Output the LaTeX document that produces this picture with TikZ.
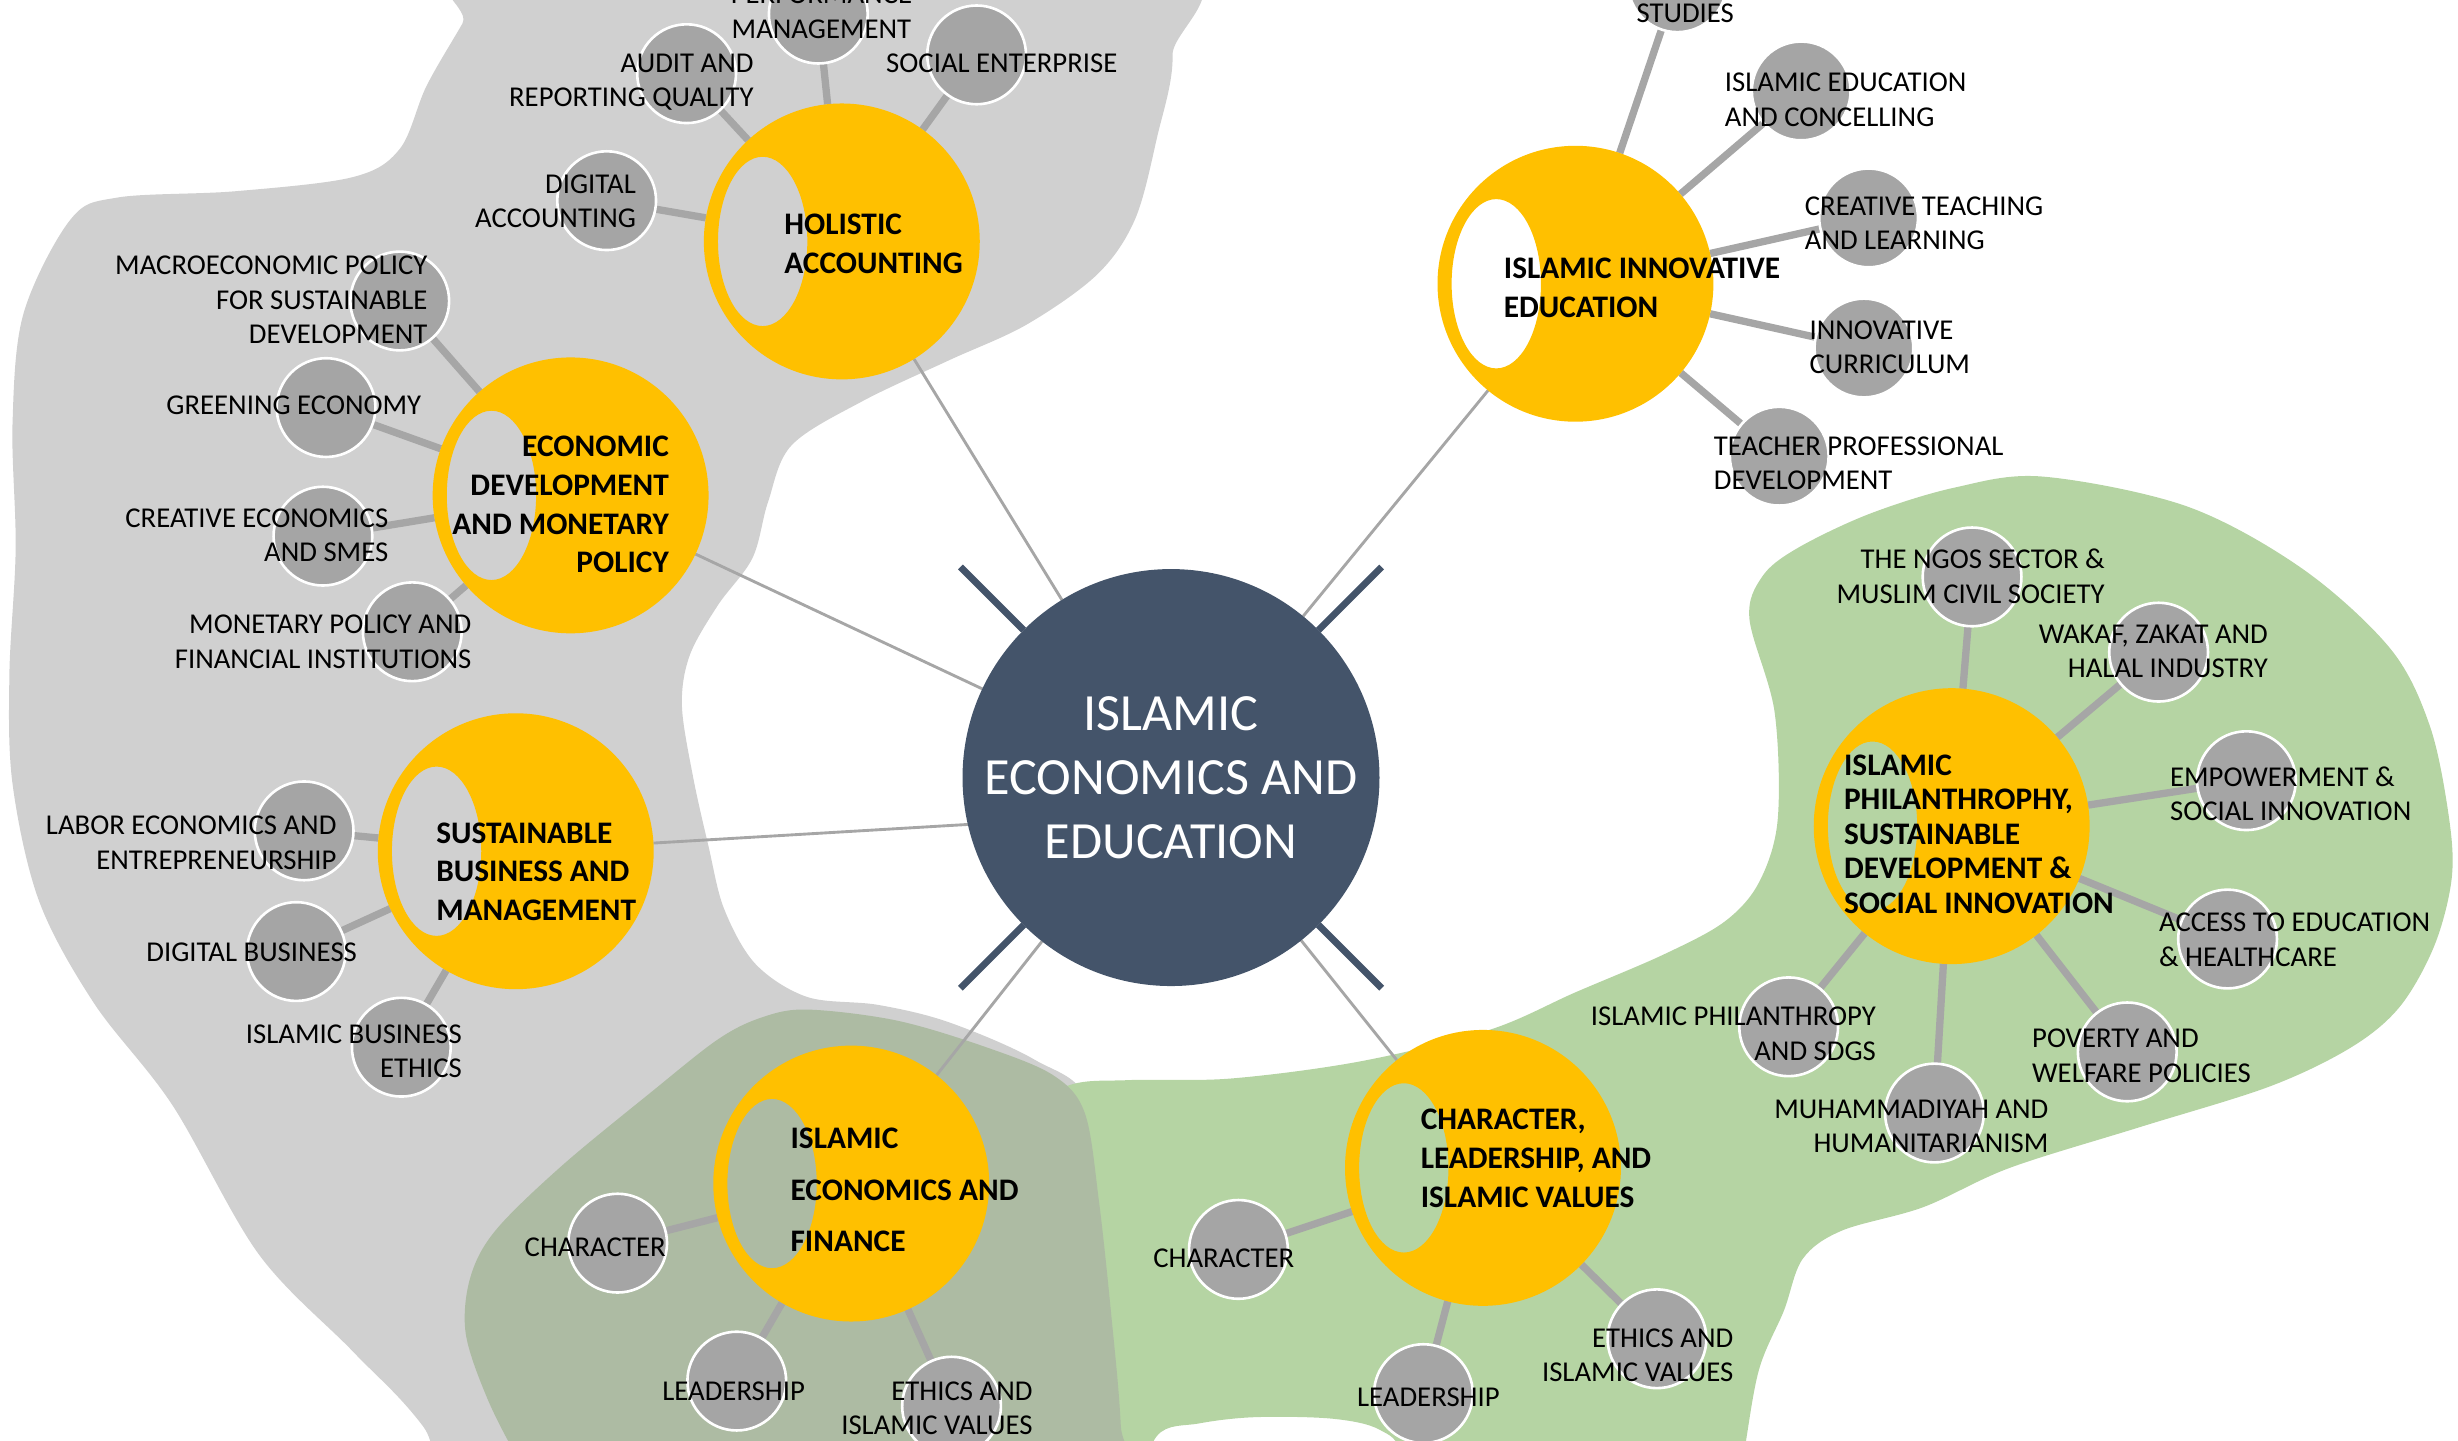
\documentclass[tikz,border=0pt]{standalone}
\usepackage{fontspec}
\setmainfont{Carlito}
\usetikzlibrary{calc}
\pgfdeclarelayer{blobs}
\pgfdeclarelayer{links}
\pgfsetlayers{blobs,links,main}
\definecolor{blobgray}{HTML}{D0D0D0}
\definecolor{blobgreen}{HTML}{B5D4A3}
\definecolor{blobolive}{HTML}{ADBBA3}
\definecolor{yel}{HTML}{FFC000}
\definecolor{navy}{HTML}{44546A}
\definecolor{subgray}{HTML}{A5A5A5}
\definecolor{linkgray}{HTML}{A6A6A6}
\tikzset{
  hubnode/.style={circle, fill=navy, minimum size=159.6pt, inner sep=0pt, outer sep=0pt, text=white, align=center, font=\fontsize{20}{24.6}\selectfont},
  mainc/.style={circle, minimum size=105.6pt, inner sep=0pt, outer sep=0pt},
  subc/.style={circle, fill=subgray, draw=white, line width=1pt, minimum size=37.8pt, inner sep=0pt, outer sep=0pt},
  hublink/.style={draw=linkgray, line width=1.1pt},
  sublink/.style={draw=linkgray, line width=2.8pt},
  tickmark/.style={draw=navy, line width=2.6pt},
  lab/.style={inner sep=0pt, yshift=-0.9pt, font=\fontsize{11}{13.2}\selectfont},
  mlab/.style={inner sep=0pt, yshift=-0.6pt, font=\bfseries\fontsize{12}{14.8}\selectfont},
  yring/.style={fill=yel, even odd rule}
}
\newcommand{\ringfill}[1]{\fill[yring] (#1.center) circle[radius=88] ($(#1.center)+(-50.5,0)$) ellipse[x radius=28.5, y radius=54];}
\begin{document}
\begin{tikzpicture}[x=0.6pt, y=-0.6pt]
\useasboundingbox (0,0) rectangle (1568,919);
\begin{pgfonlayer}{blobs}
\clip (0,0) rectangle (1568,919);
\fill[blobgray] plot[smooth cycle, tension=0.55] coordinates {
 (45,140) (75,126) (150,122) (225,113) (255,95) (272,55) (295,15) (318,-25) (735,-25) (748,35) (738,88) (724,140) (700,175) (655,207) (605,230) (550,256) (505,284) (490,320) (480,356) (458,386) (440,418) (435,450) (442,495) (452,540) (462,580) (482,615) (515,636) (560,641) (605,652) (660,676) (695,705) (703,800) (700,1000) (330,1000) (270,910) (225,862) (165,800) (110,705) (60,640) (25,575) (8,500) (6,430) (10,350) (8,270) (15,200)};
\fill[blobgreen] plot[smooth cycle, tension=0.55] coordinates {
 (640,720) (680,693) (720,689) (785,688) (868,677) (950,657) (1005,633) (1061,609) (1100,588) (1122,563) (1134,523) (1132,454) (1116,395) (1124,368) (1146,350) (1192,328) (1247,311) (1303,304) (1395,323) (1469,363) (1525,414) (1550,463) (1562,520) (1564,560) (1553,603) (1531,642) (1500,668) (1448,693) (1365,719) (1282,745) (1227,770) (1175,785) (1150,803) (1138,836) (1122,874) (1112,930) (1100,1000) (905,1000) (895,930) (880,912) (850,905) (801,904) (765,908) (738,916) (722,960) (700,1000) (650,1000) (640,900)};
\fill[blobolive] plot[smooth cycle, tension=0.55] coordinates {
 (297,850) (300,815) (316,785) (358,744) (415,697) (458,663) (486,649) (515,644) (572,651) (629,668) (672,686) (692,710) (701,766) (709,840) (715,910) (717,1000) (370,1000) (330,930) (310,890)};
\end{pgfonlayer}

% hub
\node[hubnode] (hub) at (747,496) {ISLAMIC\\ECONOMICS AND\\EDUCATION};
\draw[tickmark] (hub.45) -- ++(45:34.2pt);
\draw[tickmark] (hub.135) -- ++(135:34.2pt);
\draw[tickmark] (hub.225) -- ++(225:34.2pt);
\draw[tickmark] (hub.315) -- ++(315:34.2pt);

% main circles
\node[mainc] (H) at (537,154) {};
\node[mainc] (E) at (364,316) {};
\node[mainc] (S) at (329,543) {};
\node[mainc] (F) at (543,755) {};
\node[mainc] (C) at (946,745) {};
\node[mainc] (I) at (1005,181) {};
\node[mainc] (P) at (1245,527) {};
\ringfill{H}\ringfill{E}\ringfill{S}\ringfill{F}\ringfill{C}\ringfill{I}\ringfill{P}

% sub circles
\node[subc] (h1) at (522,9) {};
\node[subc] (h2) at (438,47) {};
\node[subc] (h3) at (623,35) {};
\node[subc] (h4) at (387,128) {};
\node[subc] (e1) at (255,192) {};
\node[subc] (e2) at (208,260) {};
\node[subc] (e3) at (206,342) {};
\node[subc] (e4) at (263,403) {};
\node[subc] (s1) at (194,530) {};
\node[subc] (s2) at (189,607) {};
\node[subc] (s3) at (256,668) {};
\node[subc] (f1) at (394,793) {};
\node[subc] (f2) at (470,881) {};
\node[subc] (f3) at (607,897) {};
\node[subc] (c1) at (790,797) {};
\node[subc] (c2) at (908,889) {};
\node[subc] (c3) at (1057,854) {};
\node[subc] (i1) at (1070,-11) {};
\node[subc] (i2) at (1149,58) {};
\node[subc] (i3) at (1192,139) {};
\node[subc] (i4) at (1189,222) {};
\node[subc] (i5) at (1135,291) {};
\node[subc] (p1) at (1258,368) {};
\node[subc] (p2) at (1377,416) {};
\node[subc] (p3) at (1433,498) {};
\node[subc] (p4) at (1421,599) {};
\node[subc] (p5) at (1357,671) {};
\node[subc] (p6) at (1234,710) {};
\node[subc] (p7) at (1141,655) {};

\begin{pgfonlayer}{links}
\draw[hublink] (hub) -- (H);
\draw[hublink] (hub) -- (E);
\draw[hublink] (hub.193) -- (S);
\draw[hublink] (hub) -- (F);
\draw[hublink] (hub) -- (C);
\draw[hublink] (hub) -- (I);
\foreach \s in {h1,h2,h3,h4} \draw[sublink] (\s) -- (H);
\foreach \s in {e1,e2,e3,e4} \draw[sublink] (\s) -- (E);
\foreach \s in {s1,s2,s3} \draw[sublink] (\s) -- (S);
\foreach \s in {f1,f2,f3} \draw[sublink] (\s) -- (F);
\foreach \s in {c1,c2,c3} \draw[sublink] (\s) -- (C);
\foreach \s in {i1,i2,i3,i4,i5} \draw[sublink] (\s) -- (I);
\foreach \s in {p1,p2,p3,p4,p5,p6,p7} \draw[sublink] (\s) -- (P);
\end{pgfonlayer}

% main labels
\node[mlab, anchor=west, align=left] (tH) at (500,154.5) {HOLISTIC\\ACCOUNTING};
\node[mlab, anchor=east, align=right] (tE) at (427,321) {ECONOMIC\\DEVELOPMENT\\AND MONETARY\\POLICY};
\node[mlab, anchor=west, align=left] (tS) at (278,555) {SUSTAINABLE\\BUSINESS AND\\MANAGEMENT};
\node[mlab, anchor=west, align=left, font=\bfseries\fontsize{12}{19.8}\selectfont] (tF) at (504,758) {ISLAMIC\\ECONOMICS AND\\FINANCE};
\node[mlab, anchor=west, align=left] (tC) at (906,738) {CHARACTER,\\LEADERSHIP, AND\\ISLAMIC VALUES};
\node[mlab, anchor=west, align=left] (tI) at (959,182.5) {ISLAMIC INNOVATIVE\\EDUCATION};
\node[mlab, anchor=west, align=left, font=\bfseries\fontsize{12}{13.2}\selectfont] (tP) at (1176,531) {ISLAMIC\\PHILANTHROPHY,\\SUSTAINABLE\\DEVELOPMENT \&\\SOCIAL INNOVATION};

% sub labels
\node[lab, align=center] (th1) at (524,6) {PERFORMANCE\\MANAGEMENT};
\node[lab, anchor=east, align=right] (th2) at (481,51) {AUDIT AND\\REPORTING QUALITY};
\node[lab, anchor=west] (th3) at (565,39) {SOCIAL ENTERPRISE};
\node[lab, anchor=east, align=right] (th4) at (406,127) {DIGITAL\\ACCOUNTING};
\node[lab, anchor=east, align=right] (te1) at (273,190) {MACROECONOMIC POLICY\\FOR SUSTAINABLE\\DEVELOPMENT};
\node[lab, anchor=east] (te2) at (269,257) {GREENING ECONOMY};
\node[lab, anchor=east, align=right] (te3) at (248,340) {CREATIVE ECONOMICS\\AND SMES};
\node[lab, anchor=east, align=right] (te4) at (301,408) {MONETARY POLICY AND\\FINANCIAL INSTITUTIONS};
\node[lab, anchor=east, align=right] (ts1) at (215,536) {LABOR ECONOMICS AND\\ENTREPRENEURSHIP};
\node[lab, anchor=east] (ts2) at (228,606) {DIGITAL BUSINESS};
\node[lab, anchor=east, align=right] (ts3) at (295,669) {ISLAMIC BUSINESS\\ETHICS};
\node[lab, anchor=east] (tf1) at (425,794) {CHARACTER};
\node[lab] (tf2) at (468,886) {LEADERSHIP};
\node[lab, anchor=east, align=right] (tf3) at (659,897) {ETHICS AND\\ISLAMIC VALUES};
\node[lab, anchor=east] (tc1) at (826,801) {CHARACTER};
\node[lab, anchor=east] (tc2) at (957,890) {LEADERSHIP};
\node[lab, anchor=east, align=right] (tc3) at (1106,863) {ETHICS AND\\ISLAMIC VALUES};
\node[lab] (ti1) at (1075,7) {STUDIES};
\node[lab, anchor=west, align=left] (ti2) at (1100,62) {ISLAMIC EDUCATION\\AND CONCELLING};
\node[lab, anchor=west, align=left] (ti3) at (1151,141) {CREATIVE TEACHING\\AND LEARNING};
\node[lab, anchor=west, align=left] (ti4) at (1154,220) {INNOVATIVE\\CURRICULUM};
\node[lab, anchor=west, align=left] (ti5) at (1093,294) {TEACHER PROFESSIONAL\\DEVELOPMENT};
\node[lab, anchor=east, align=right] (tp1) at (1343,366) {THE NGOS SECTOR \&\\MUSLIM CIVIL SOCIETY};
\node[lab, anchor=east, align=right] (tp2) at (1447,414) {WAKAF, ZAKAT AND\\HALAL INDUSTRY};
\node[lab, anchor=west, align=left] (tp3) at (1384,505) {EMPOWERMENT \&\\SOCIAL INNOVATION};
\node[lab, anchor=west, align=left] (tp4) at (1377,598) {ACCESS TO EDUCATION\\\& HEALTHCARE};
\node[lab, anchor=west, align=left] (tp5) at (1296,672) {POVERTY AND\\WELFARE POLICIES};
\node[lab, anchor=east, align=right] (tp6) at (1307,717) {MUHAMMADIYAH AND\\HUMANITARIANISM};
\node[lab, anchor=east, align=right] (tp7) at (1197,658) {ISLAMIC PHILANTHROPY\\AND SDGS};
\end{tikzpicture}
\end{document}
